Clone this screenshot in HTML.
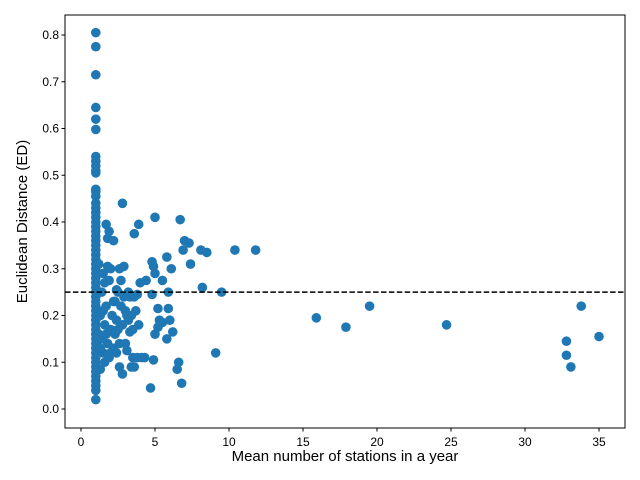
<!DOCTYPE html>
<html><head><meta charset="utf-8"><style>body{margin:0;background:#fff}svg{display:block}</style></head>
<body>
<svg id="c" width="640" height="480" xmlns="http://www.w3.org/2000/svg" font-family="Liberation Sans, sans-serif"></svg>
<script>
const xTicks=[0,5,10,15,20,25,30,35];
const yTicks=[0,0.1,0.2,0.3,0.4,0.5,0.6,0.7,0.8];
const col1Y=[0.805,0.775,0.715,0.645,0.62,0.598,0.54,0.53,0.52,0.51,0.505,0.47,0.465,0.455,0.44,0.43,0.42,0.41,0.40,0.39,0.38,0.37,0.36,0.35,0.34,0.33,0.32,0.31,0.30,0.29,0.28,0.27,0.26,0.25,0.24,0.23,0.22,0.21,0.20,0.19,0.18,0.17,0.16,0.15,0.14,0.13,0.12,0.11,0.10,0.09,0.08,0.07,0.06,0.05,0.04,0.02];
const otherX=[1.2,1.3,1.5,1.7,1.8,1.9,1.8,1.9,2.0,2.2,2.8,2.6,2.9,2.7,2.5,3.2,2.3,2.7,3.0,2.5,3.3,3.5,2.8,2.6,2.4,3.1,3.6,3.9,3.6,3.8,3.9,4.0,4.3,4.4,4.7,4.8,4.8,4.9,5.0,5.0,4.9,5.0,5.2,5.3,5.2,5.5,5.5,5.8,5.8,5.9,6.0,5.9,6.1,6.2,6.5,6.6,6.7,6.9,6.8,7.0,7.3,7.4,8.1,8.2,8.5,9.1,9.5,10.4,11.8,15.9,17.9,19.5,24.7,32.8,32.8,33.1,33.8,35.0,1.3,1.4,1.5,1.6,1.7,1.8,1.9,2.0,2.1,2.2,2.3,2.4,2.6,2.8,3.0,3.2,3.4,3.5,3.7,3.8,3.4,3.6,1.4,1.6,2.0,2.2,1.5,1.2,1.3,1.7,2.9,3.1,3.3,4.1,1.6,2.4];
const otherY=[0.31,0.085,0.29,0.395,0.365,0.38,0.305,0.275,0.30,0.36,0.44,0.30,0.305,0.275,0.25,0.25,0.23,0.22,0.21,0.17,0.165,0.11,0.075,0.09,0.12,0.125,0.375,0.395,0.24,0.245,0.18,0.27,0.11,0.275,0.045,0.245,0.315,0.305,0.29,0.41,0.105,0.16,0.215,0.19,0.175,0.275,0.185,0.15,0.325,0.25,0.19,0.215,0.30,0.165,0.085,0.10,0.405,0.34,0.055,0.36,0.355,0.31,0.34,0.26,0.335,0.12,0.25,0.34,0.34,0.195,0.175,0.22,0.18,0.145,0.115,0.09,0.22,0.155,0.2,0.15,0.12,0.18,0.22,0.14,0.11,0.17,0.2,0.13,0.16,0.19,0.14,0.18,0.14,0.19,0.2,0.17,0.21,0.11,0.09,0.09,0.25,0.1,0.12,0.23,0.21,0.16,0.13,0.16,0.24,0.2,0.24,0.11,0.27,0.255];
const threshold=0.25;
const L=65,R=625,T=15,B=428;
const xs=v=>81+14.8*v, ys=v=>409-467.5*v;
const svg=document.getElementById('c');const NS='http://www.w3.org/2000/svg';
function mk(t,a,p){const e=document.createElementNS(NS,t);for(const k in a)e.setAttribute(k,a[k]);(p||svg).appendChild(e);return e;}
const pts=mk('g',{});


function dot(x,y){const c=mk('circle',{cx:xs(x),cy:ys(y),r:4.8,fill:'#1f77b4'},pts);

}
col1Y.forEach(y=>dot(1,y));
otherX.forEach((x,i)=>dot(x,otherY[i]));
const th=mk('line',{x1:L,x2:R,y1:ys(threshold),y2:ys(threshold),stroke:'#000','stroke-width':1.5,'stroke-dasharray':'5.5,2.4'});


const fr=mk('rect',{x:L,y:T,width:R-L,height:B-T,fill:'none',stroke:'#000','stroke-width':1});


xTicks.forEach(v=>{mk('line',{x1:xs(v),x2:xs(v),y1:B,y2:B+3.5,stroke:'#000'});
const t=mk('text',{x:xs(v),y:B+18,'font-size':12,'text-anchor':'middle'});t.textContent=v;

});
yTicks.forEach(v=>{mk('line',{x1:L-3.5,x2:L,y1:ys(v),y2:ys(v),stroke:'#000'});
const t=mk('text',{x:L-6,y:ys(v)+4,'font-size':12,'text-anchor':'end'});t.textContent=v.toFixed(1);

});
const xt=mk('text',{x:(L+R)/2,y:461,'font-size':15,'text-anchor':'middle'});xt.textContent='Mean number of stations in a year';


const yt=mk('text',{x:0,y:0,'font-size':15,'text-anchor':'middle',transform:`translate(27,${(T+B)/2}) rotate(-90)`});yt.textContent='Euclidean Distance (ED)';


</script>
</body></html>
